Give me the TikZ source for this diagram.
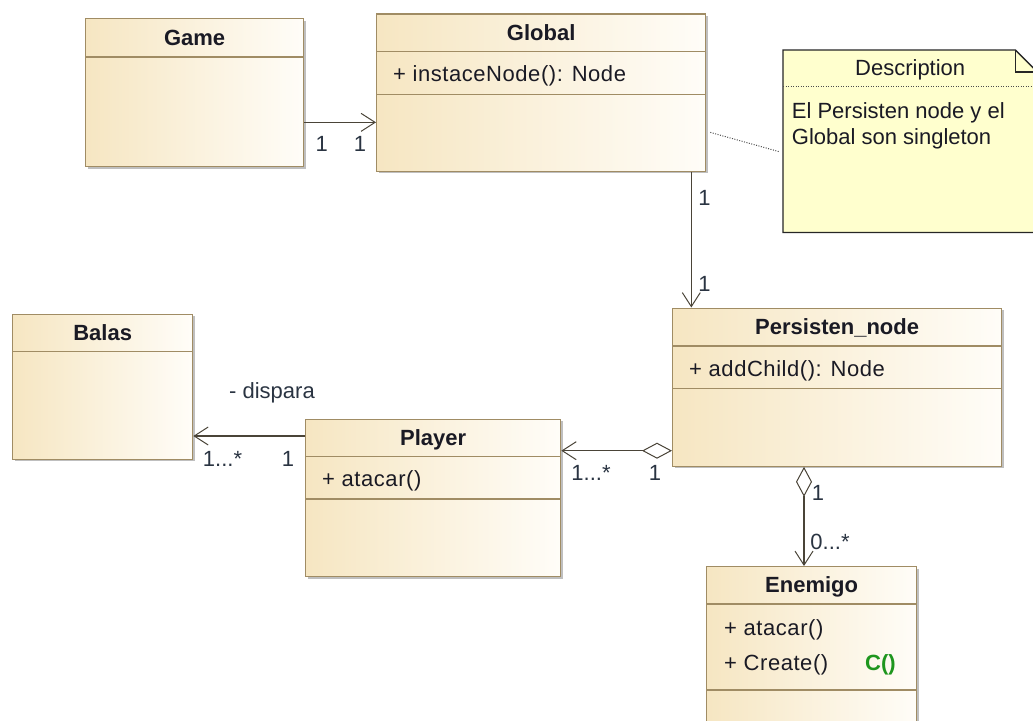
\documentclass[tikz,border=0pt]{standalone}
\usepackage{fontspec}
\setmainfont{Liberation Sans}
\newfontfamily\attrfont{Liberation Sans}[LetterSpace=2.5]
\usetikzlibrary{arrows.meta,shadows,calc}
\definecolor{clsL}{HTML}{F6E6C2}
\definecolor{clsR}{HTML}{FFFDF8}
\definecolor{clsB}{HTML}{A08C64}
\definecolor{noteF}{HTML}{FFFFCE}
\definecolor{lineC}{HTML}{4A4438}
\definecolor{txt}{HTML}{1A1A24}
\definecolor{mult}{HTML}{2A3442}
\definecolor{grn}{HTML}{1E961E}
\begin{document}
\begin{tikzpicture}[x=1pt,y=-1pt,
  font=\fontsize{22}{26}\selectfont,
  cls/.style={draw=clsB, line width=1.3pt, left color=clsL, right color=clsR,
    anchor=north west, inner sep=0pt,
    drop shadow={shadow xshift=2pt, shadow yshift=-2pt, opacity=0.25, fill=black}},
  div/.style={draw=clsB, line width=1.3pt},
  cname/.style={font=\fontsize{22}{26}\selectfont\bfseries, text=txt, inner sep=0pt, text height=15.8pt, text depth=0pt},
  attr/.style={text=txt, inner sep=0pt, anchor=west, text height=15.8pt, text depth=0pt},
  mattr/.style={attr, font=\attrfont\fontsize{22}{26}\selectfont},
  mlbl/.style={text=mult, inner sep=0pt, text height=15.8pt, text depth=0pt},
  assoc/.style={draw=lineC, line width=1.2pt, -{Straight Barb[length=14pt,width=18pt,line width=1pt]}},
  aggr/.style={draw=lineC, line width=1.2pt, {Diamond[length=30pt,width=16pt,fill=white,line width=1pt]}-{Straight Barb[length=14pt,width=18pt,line width=1pt]}},
  notedot/.style={draw=black!70, line width=1pt, dash pattern=on 1pt off 1.5pt}
]
\useasboundingbox (0,0) rectangle (1033,720);
\clip (0,0) rectangle (1033,720);

% ---- classes ----
\node[cls, minimum width=218pt, minimum height=148pt] (game) at (85,18) {};
\draw[div] ([yshift=-39pt]game.north west) -- ([yshift=-39pt]game.north east);
\node[cname] (gameN) at ([yshift=-19.5pt]game.north) {Game};

\node[cls, minimum width=329pt, minimum height=157.5pt] (global) at (376,13.3) {};
\draw[div] ([yshift=-38.5pt]global.north west) -- ([yshift=-38.5pt]global.north east);
\draw[div] ([yshift=-81pt]global.north west) -- ([yshift=-81pt]global.north east);
\node[cname] (globalN) at ([yshift=-19.3pt]global.north) {Global};
\node[mattr] (globalA) at ([shift={(17pt,-60.5pt)}]global.north west) {+ instaceNode(): Node};

\node[cls, minimum width=329pt, minimum height=158pt] (persist) at (672,307.5) {};
\draw[div] ([yshift=-38.5pt]persist.north west) -- ([yshift=-38.5pt]persist.north east);
\draw[div] ([yshift=-81pt]persist.north west) -- ([yshift=-81pt]persist.north east);
\node[cname] (persistN) at ([yshift=-19.3pt]persist.north) {Persisten\_node};
\node[mattr] (persistA) at ([shift={(17pt,-61pt)}]persist.north west) {+ addChild(): Node};

\node[cls, minimum width=180pt, minimum height=145pt] (balas) at (12,313.5) {};
\draw[div] ([yshift=-38pt]balas.north west) -- ([yshift=-38pt]balas.north east);
\node[cname] (balasN) at ([yshift=-19pt]balas.north) {Balas};

\node[cls, minimum width=255pt, minimum height=157.5pt] (player) at (305,418.5) {};
\draw[div] ([yshift=-38pt]player.north west) -- ([yshift=-38pt]player.north east);
\draw[div] ([yshift=-80.5pt]player.north west) -- ([yshift=-80.5pt]player.north east);
\node[cname] (playerN) at ([yshift=-19pt]player.north) {Player};
\node[mattr] (playerA) at ([shift={(17pt,-60pt)}]player.north west) {+ atacar()};

\node[cls, minimum width=210pt, minimum height=175pt] (enemigo) at (706,566) {};
\draw[div] ([yshift=-38pt]enemigo.north west) -- ([yshift=-38pt]enemigo.north east);
\draw[div] ([yshift=-124pt]enemigo.north west) -- ([yshift=-124pt]enemigo.north east);
\node[cname] (enemigoN) at ([yshift=-19pt]enemigo.north) {Enemigo};
\node[mattr] (enemigoA1) at ([shift={(18pt,-62pt)}]enemigo.north west) {+ atacar()};
\node[mattr] (enemigoA2) at ([shift={(18pt,-97pt)}]enemigo.north west) {+ Create()};
\node[attr, text=grn, font=\fontsize{22}{26}\selectfont\bfseries] (enemigoC) at ([shift={(159pt,-97pt)}]enemigo.north west) {C()};

% ---- note ----
\node[anchor=north west, minimum width=254pt, minimum height=182pt, inner sep=0pt] (note) at (783,50) {};
\filldraw[fill=noteF, draw=black!85, line width=1.3pt]
  (note.north west) -- ([xshift=-22pt]note.north east) -- ([yshift=-22pt]note.north east)
  -- (note.south east) -- (note.south west) -- cycle;
\draw[draw=black!85, line width=1.1pt] ([xshift=-22pt]note.north east) |- ([yshift=-22pt]note.north east);
\draw[notedot] ([yshift=-36.7pt]note.north west) -- ([yshift=-36.7pt]note.north east);
\node[mlbl, text=txt] (noteT) at ([yshift=-18pt]note.north) {Description};
\node[attr] (noteL1) at ([shift={(8.7pt,-61pt)}]note.north west) {El Persisten node y el};
\node[attr] (noteL2) at ([shift={(8.7pt,-87pt)}]note.north west) {Global son singleton};

% ---- connectors ----
\coordinate (gg) at ([yshift=-29.7pt]game.east);
\draw[assoc] (gg) -- (gg -| global.west);
\node[mlbl] (m1) at (321.7,143.5) {1};
\node[mlbl] (m2) at (360,143.5) {1};

\coordinate (gp) at ([xshift=-15pt]global.south east);
\draw[assoc] (gp) -- (gp |- persist.north);
\node[mlbl] (m3) at (704.5,197.5) {1};
\node[mlbl] (m4) at (704.5,284) {1};

\coordinate (pb) at ([yshift=-17.5pt]player.north west);
\draw[assoc] (pb) -- (pb -| balas.east);
\node[mlbl] (m5) at (222.5,459) {1...*};
\node[mlbl] (m6) at (288,459) {1};
\node[mlbl] (dis) at (272,391) {- dispara};

\coordinate (pp) at ([yshift=-143.2pt]persist.north west);
\draw[aggr] (pp) -- (pp -| player.east);
\node[mlbl] (m7) at (591,473) {1...*};
\node[mlbl] (m8) at (655,473) {1};

\coordinate (pe) at ([xshift=132pt]persist.south west);
\draw[aggr] (pe) -- (pe |- enemigo.north);
\node[mlbl] (m9) at (818,492.5) {1};
\node[mlbl] (m10) at (830,542) {0...*};

% dotted note link
\draw[notedot] ([shift={(4pt,-39.7pt)}]global.east) -- ([shift={(-3pt,-10.7pt)}]note.west);
\end{tikzpicture}
\end{document}
